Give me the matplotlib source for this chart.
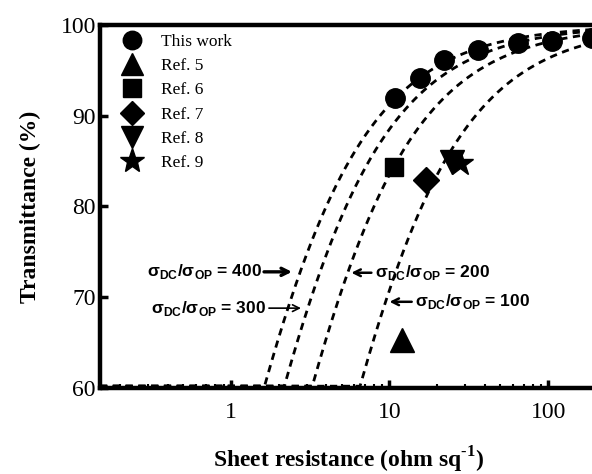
import numpy as np
import matplotlib
matplotlib.use("Agg")
import matplotlib.pyplot as plt

plt.rcParams['mathtext.fontset'] = 'custom'
plt.rcParams['mathtext.rm'] = 'Liberation Serif:bold'
plt.rcParams['mathtext.sf'] = 'Liberation Sans:bold'
plt.rcParams['mathtext.bf'] = 'Liberation Sans:bold'

# ---- data ----
this_work_rs = [10.8, 15.5, 21.9, 36.0, 64.6, 106.0, 190.0]
this_work_t = [92.0, 94.2, 96.1, 97.2, 98.0, 98.2, 98.6]
ref5_rs, ref5_t = [12.0], [65.3]
ref6_rs, ref6_t = [10.6], [84.3]
ref7_rs, ref7_t = [17.1], [82.9]
ref8_rs, ref8_t = [24.6], [84.9]
ref9_rs, ref9_t = [27.7], [84.8]
ratios = [400, 300, 200, 100]
xlim = (0.15, 200)
ylim = (60, 100)
xticks = [1, 10, 100]
xticklabels = ['1', '10', '100']
yticks = [60, 70, 80, 90, 100]

fig = plt.figure(figsize=(5.92, 4.74), dpi=100)
ax = fig.add_axes([100/592, (474-388)/474, 496/592, (388-25)/474])

rs = np.logspace(np.log10(xlim[0]), np.log10(xlim[1]), 600)
for r in ratios:
    t = 100.0 / (1 + 188.5 / (r * rs))**2
    ax.plot(rs, np.clip(t, 60.2, None), color='black', lw=2.0,
            dashes=(2.6, 2.0), zorder=2, clip_on=False)

ms = dict(color='black', linestyle='none', zorder=3, clip_on=False)
ax.plot(this_work_rs, this_work_t, marker='o', markersize=14, label='This work', **ms)
ax.plot(ref5_rs, ref5_t, marker='^', markersize=17, label='Ref. 5', **ms)
ax.plot(ref6_rs, ref6_t, marker='s', markersize=13, label='Ref. 6', **ms)
ax.plot(ref7_rs, ref7_t, marker='D', markersize=13, label='Ref. 7', **ms)
ax.plot(ref8_rs, ref8_t, marker='v', markersize=17, label='Ref. 8', **ms)
ax.plot(ref9_rs, ref9_t, marker='*', markersize=19, label='Ref. 9', **ms)

ax.set_xscale('log')
ax.set_xlim(*xlim)
ax.set_ylim(*ylim)
ax.set_xticks(xticks)
ax.set_xticklabels(xticklabels)
ax.set_yticks(yticks)
ax.xaxis.set_minor_locator(matplotlib.ticker.LogLocator(subs=np.arange(2, 10)))
ax.xaxis.set_minor_formatter(matplotlib.ticker.NullFormatter())
ax.tick_params(which='major', direction='in', length=6, width=2.5, pad=10)
ax.tick_params(which='minor', direction='in', length=3, width=1.5)
for lab in ax.get_xticklabels() + ax.get_yticklabels():
    lab.set_fontfamily('Liberation Serif')
    lab.set_fontsize(17)
ax.tick_params(axis='y', pad=3)
for side in ['left', 'bottom', 'top']:
    ax.spines[side].set_linewidth(3.2)
ax.spines['right'].set_visible(False)

ax.set_xlabel('Sheet resistance (ohm sq$^{\\text{-1}}$)', fontfamily='Liberation Serif',
              fontweight='bold', fontsize=17, labelpad=16)
ax.set_ylabel('Transmittance (%)', fontfamily='Liberation Serif',
              fontweight='bold', fontsize=17, labelpad=14)

leg = ax.legend(loc='upper left', bbox_to_anchor=(0.027, 1.0), frameon=False,
                prop={'family': 'Liberation Serif', 'size': 12.5},
                handlelength=1.2, handletextpad=1.05, labelspacing=0.47,
                numpoints=1, markerscale=0.95, borderaxespad=0.1)

afont = dict(family=['Liberation Sans', 'DejaVu Sans'], weight='bold', fontsize=12.5)
lab = r'σ$_{\mathsf{DC}}$/σ$_{\mathsf{OP}}$ = '

# label texts
ax.text(1.57, 72.8, lab + '400', ha='right', va='center', **afont)
ax.text(1.66, 68.8, lab + '300', ha='right', va='center', **afont)
ax.text(8.05, 72.7, lab + '200', ha='left', va='center', **afont)
ax.text(14.4, 69.5, lab + '100', ha='left', va='center', **afont)

# arrows
ax.annotate('', xy=(2.43, 72.8), xytext=(1.62, 72.8),
            arrowprops=dict(arrowstyle='->', lw=2.4, color='black', mutation_scale=13,
                            shrinkA=0, shrinkB=0))
ax.annotate('', xy=(2.77, 68.8), xytext=(1.74, 68.8),
            arrowprops=dict(arrowstyle='->', lw=1.2, color='black', mutation_scale=12,
                            shrinkA=0, shrinkB=0))
ax.annotate('', xy=(5.75, 72.7), xytext=(7.69, 72.7),
            arrowprops=dict(arrowstyle='->', lw=1.8, color='black', mutation_scale=12,
                            shrinkA=0, shrinkB=0))
ax.annotate('', xy=(10.0, 69.5), xytext=(13.8, 69.5),
            arrowprops=dict(arrowstyle='->', lw=1.8, color='black', mutation_scale=12,
                            shrinkA=0, shrinkB=0))

fig.savefig('out.png', dpi=100)
